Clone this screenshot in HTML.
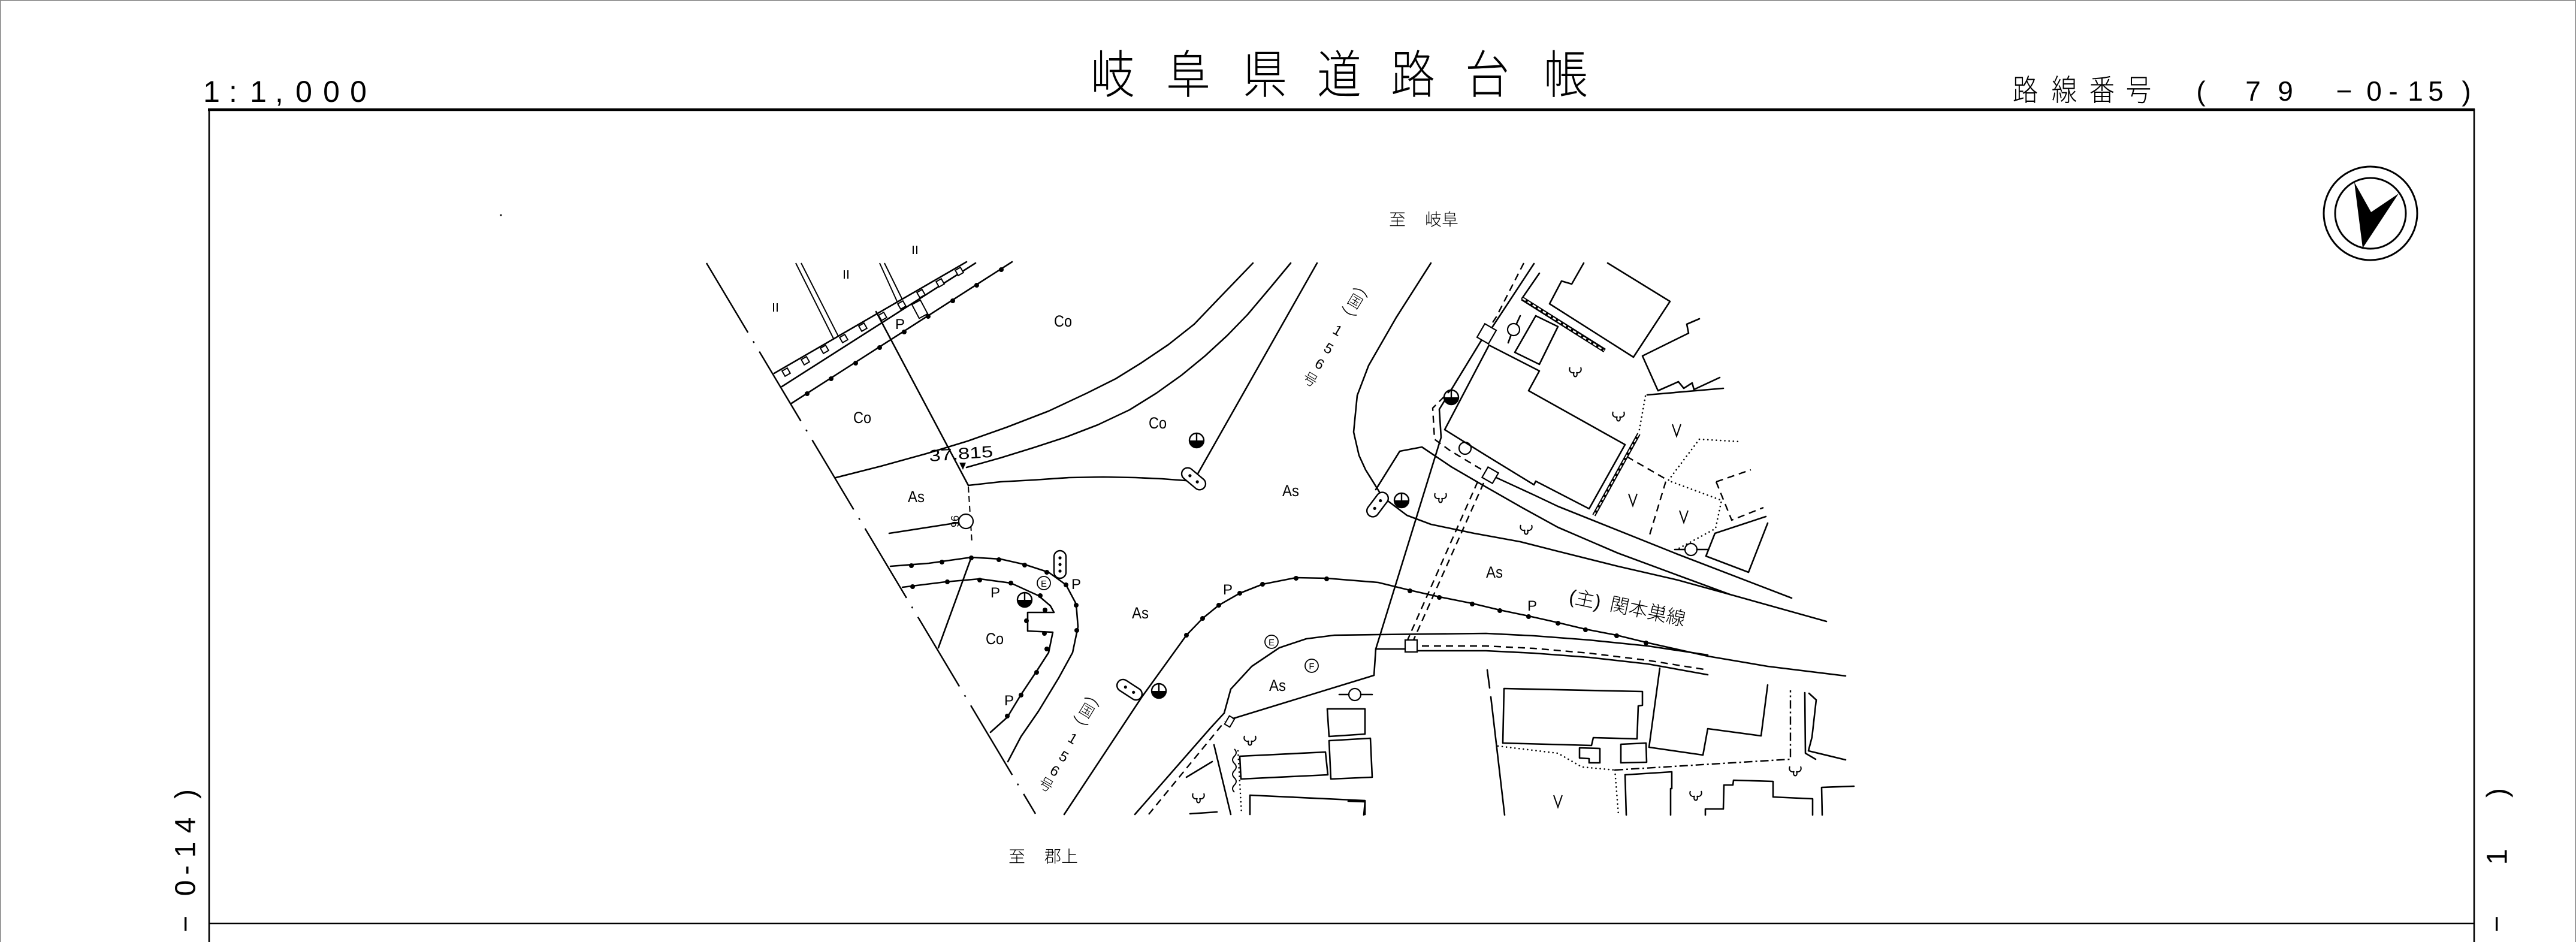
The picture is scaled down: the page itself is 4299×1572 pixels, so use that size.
<!DOCTYPE html>
<html><head><meta charset="utf-8"><style>
html,body{margin:0;padding:0;background:#fff}
svg{display:block}
.l{fill:none;stroke:#000;stroke-width:2.6;stroke-linejoin:round;stroke-linecap:round}
.t{fill:none;stroke:#000;stroke-width:2}
.d{fill:none;stroke:#000;stroke-width:2.4;stroke-dasharray:12 8}
.o{fill:none;stroke:#000;stroke-width:2.6;stroke-dasharray:0.1 7;stroke-linecap:round}
.k{fill:#000;stroke:none}
text{font-family:"Liberation Sans","Noto Sans CJK JP",sans-serif;fill:#000}
.m{font-family:"Liberation Sans Narrow","Liberation Sans",sans-serif;font-size:27px}
.j{font-family:"Liberation Sans","Noto Sans CJK JP",sans-serif;font-weight:300}
</style></head><body>
<svg width="4299" height="1572" viewBox="0 0 4299 1572" xmlns="http://www.w3.org/2000/svg">
<defs>
<g id="mh"><circle r="12" fill="#fff" stroke="#000" stroke-width="2.4"/><path d="M-12,0 A12,12 0 0 0 12,0 Z" fill="#000"/><line x1="0" y1="-12" x2="0" y2="0" stroke="#000" stroke-width="2.4"/></g>
<g id="cap"><rect x="-23" y="-10" width="46" height="20" rx="10" fill="#fff" stroke="#000" stroke-width="2.4"/><circle cx="-8" cy="0" r="2.6" fill="#000"/><circle cx="8" cy="0" r="2.6" fill="#000"/></g>
<g id="tr"><path d="M-9,-8 C-12,0 -4,3 -2,0 M9,-8 C12,0 4,3 2,0 M-2,0 C-6,10 6,10 2,0" fill="none" stroke="#000" stroke-width="2"/></g>
<g id="vv"><path d="M-7,-11 L0,9 L7,-11" fill="none" stroke="#000" stroke-width="2"/></g>
</defs>
<rect width="4299" height="1572" fill="#fff"/>
<!-- page border -->
<path d="M0.8,1572 V0.8 H4298.2 V1572" fill="none" stroke="#8a8a8a" stroke-width="1.6"/>

<!-- header -->
<g font-size="50">
<text x="353" y="170" text-anchor="middle">1</text>
<text x="389" y="170" text-anchor="middle">:</text>
<text x="431" y="170" text-anchor="middle">1</text>
<text x="466" y="170" text-anchor="middle">,</text>
<text x="507" y="170" text-anchor="middle">0</text>
<text x="553" y="170" text-anchor="middle">0</text>
<text x="598" y="170" text-anchor="middle">0</text>
</g>
<g class="j" font-size="86" text-anchor="middle">
<text transform="translate(1857,155) scale(0.86,1)">岐</text>
<text transform="translate(1983,155) scale(0.86,1)">阜</text>
<text transform="translate(2111,155) scale(0.86,1)">県</text>
<text transform="translate(2235,155) scale(0.86,1)">道</text>
<text transform="translate(2358,155) scale(0.86,1)">路</text>
<text transform="translate(2482,155) scale(0.86,1)">台</text>
<text transform="translate(2613,155) scale(0.86,1)">帳</text>
</g>
<g class="j" font-size="50" text-anchor="middle">
<text transform="translate(3380,168) scale(0.85,1)">路</text>
<text transform="translate(3445,168) scale(0.85,1)">線</text>
<text transform="translate(3508,168) scale(0.85,1)">番</text>
<text transform="translate(3569,168) scale(0.85,1)">号</text>
</g>
<g font-size="46" text-anchor="middle">
<text x="3673" y="168">(</text>
<text x="3760" y="168">7</text>
<text x="3814" y="168">9</text>
<text x="3912" y="168">−</text>
<text x="3962" y="168">0</text>
<text x="3994" y="168">-</text>
<text x="4031" y="168">1</text>
<text x="4065" y="168">5</text>
<text x="4116" y="168">)</text>
</g>

<!-- frame -->
<line x1="347" y1="183" x2="4130" y2="183" stroke="#000" stroke-width="4.5"/>
<line x1="349" y1="182" x2="349" y2="1572" stroke="#000" stroke-width="2.6"/>
<line x1="4129" y1="182" x2="4129" y2="1572" stroke="#000" stroke-width="2.6"/>
<line x1="349" y1="1541" x2="4129" y2="1541" stroke="#000" stroke-width="2.6"/>

<!-- side labels -->
<g font-size="48" text-anchor="middle" dominant-baseline="central">
<text transform="translate(310,1325) rotate(-90)">)</text>
<text transform="translate(310,1377) rotate(-90)">4</text>
<text transform="translate(310,1418) rotate(-90)">1</text>
<text transform="translate(310,1452) rotate(-90)">-</text>
<text transform="translate(310,1482) rotate(-90)">0</text>
<text transform="translate(310,1542) rotate(-90)">−</text>
<text transform="translate(4168,1323) rotate(-90)">)</text>
<text transform="translate(4168,1430) rotate(-90)">1</text>
<text transform="translate(4167,1542) rotate(-90)">−</text>
</g>

<!-- compass -->
<circle cx="3956" cy="356" r="78" fill="none" stroke="#000" stroke-width="3"/>
<circle cx="3956" cy="356" r="59" fill="none" stroke="#000" stroke-width="3"/>
<polygon points="3929,304 3957,354 4003,323 3943,414" fill="#000"/>

<!-- direction labels -->
<g class="j" font-size="28">
<text x="2318" y="376">至</text><text x="2378" y="376">岐阜</text>
<text x="1683" y="1439">至</text><text x="1743" y="1439">郡上</text>
</g>
<circle cx="836" cy="359" r="1.5" fill="#000"/>

<!-- ===== MAP ===== -->
<line x1="1179" y1="439" x2="1728" y2="1358" stroke="#000" stroke-width="2.5" stroke-dasharray="135 17 3 17"/>

<g class="t">
<path d="M1328,439 L1391,565 M1337,439 L1399,561"/>
<path d="M1468,439 L1498,505 M1476,439 L1506,500"/>
<path d="M1524,410 L1524,424 M1530,410 L1530,424"/>
<path d="M1409,451 L1409,465 M1415,451 L1415,465"/>
<path d="M1291,506 L1291,520 M1297,506 L1297,520"/>
</g>
<path class="l" d="M1292,623 L1613,437"/>
<path class="l" d="M1305,645 L1628,439" stroke-width="3"/>
<g fill="#fff" stroke="#000" stroke-width="2">
<rect x="-5" y="-5" width="10" height="10" transform="translate(1312,621) rotate(-30)"/>
<rect x="-5" y="-5" width="10" height="10" transform="translate(1344,602) rotate(-30)"/>
<rect x="-5" y="-5" width="10" height="10" transform="translate(1376,583) rotate(-30)"/>
<rect x="-5" y="-5" width="10" height="10" transform="translate(1408,565) rotate(-30)"/>
<rect x="-5" y="-5" width="10" height="10" transform="translate(1440,546) rotate(-30)"/>
<rect x="-5" y="-5" width="10" height="10" transform="translate(1473,528) rotate(-30)"/>
<rect x="-5" y="-5" width="10" height="10" transform="translate(1505,509) rotate(-30)"/>
<rect x="-5" y="-5" width="10" height="10" transform="translate(1537,490) rotate(-30)"/>
<rect x="-5" y="-5" width="10" height="10" transform="translate(1569,472) rotate(-30)"/>
<rect x="-5" y="-5" width="10" height="10" transform="translate(1601,453) rotate(-30)"/>
</g>
<path class="l" d="M1321,673 L1689,437"/>
<g class="k">
<circle cx="1347" cy="657" r="4"/><circle cx="1387" cy="632" r="4"/><circle cx="1428" cy="606" r="4"/>
<circle cx="1468" cy="580" r="4"/><circle cx="1509" cy="554" r="4"/><circle cx="1549" cy="528" r="4"/>
<circle cx="1590" cy="502" r="4"/><circle cx="1630" cy="476" r="4"/><circle cx="1671" cy="450" r="4"/>
</g>
<path class="l" d="M1462,520 L1616,810"/>
<rect x="-8" y="-13" width="16" height="26" fill="#fff" stroke="#000" stroke-width="2" transform="translate(1535,516) rotate(-28)"/>
<path class="t" d="M1616,812 L1622,905" stroke-dasharray="10 6"/>
<path class="l" d="M1395,797 L1470,778 L1546,757 L1615,736 L1680,713 L1750,686 L1814,656 L1862,632 L1904,606 L1950,575 L1993,541 L2037,495 L2065,466 L2091,439"/>
<path class="l" d="M1613,780 L1670,764 L1725,747 L1780,729 L1832,709 L1885,684 L1930,656 L1972,626 L2011,594 L2048,560 L2082,525 L2120,480 L2154,439"/>
<path class="l" d="M1616,810 L1670,804 L1725,801 L1784,797 L1841,796 L1895,797 L1939,799 L1979,802"/>
<path class="l" d="M1993,801 L2198,439"/>
<text class="m" x="1551" y="770" font-size="36" textLength="107" lengthAdjust="spacingAndGlyphs" transform="rotate(-4,1551,770)">37.815</text>
<polygon points="1601,772 1612,772 1607,784" fill="#000"/>
<circle cx="1612" cy="870" r="12" fill="#fff" stroke="#000" stroke-width="2.2"/>
<path class="l" d="M1484,890 L1600,872"/>
<text x="1600" y="870" font-size="18" transform="rotate(-90,1600,870)" text-anchor="middle">96</text>

<use href="#cap" transform="translate(1992,799) rotate(40)"/>
<use href="#mh" x="1997" y="735"/>

<g class="m" text-anchor="middle">
<text x="1774" y="545" textLength="30" lengthAdjust="spacingAndGlyphs">Co</text>
<text x="1439" y="706" textLength="30" lengthAdjust="spacingAndGlyphs">Co</text>
<text x="1932" y="715" textLength="30" lengthAdjust="spacingAndGlyphs">Co</text>
<text x="1529" y="838" textLength="28" lengthAdjust="spacingAndGlyphs">As</text>
<text x="2154" y="828" textLength="28" lengthAdjust="spacingAndGlyphs">As</text>
<text x="1903" y="1032" textLength="28" lengthAdjust="spacingAndGlyphs">As</text>
<text x="2132" y="1153" textLength="28" lengthAdjust="spacingAndGlyphs">As</text>
<text x="2494" y="964" textLength="28" lengthAdjust="spacingAndGlyphs">As</text>
<text x="1660" y="1075" textLength="30" lengthAdjust="spacingAndGlyphs">Co</text>
<text x="1502" y="549" font-size="24">P</text>
<text x="1796" y="983" font-size="24">P</text>
<text x="1661" y="997" font-size="24">P</text>
<text x="1684" y="1177" font-size="24">P</text>
<text x="2049" y="992" font-size="24">P</text>
<text x="2557" y="1019" font-size="24">P</text>
</g>

<path class="l" d="M1486,945 L1550,940 L1621,930 L1670,933 L1710,942 L1750,955 L1779,976 L1796,1008 L1799,1046 L1790,1089 L1767,1131 L1733,1187 L1704,1229 L1682,1271"/>
<path class="l" d="M1506,980 L1578,971 L1635,966 L1687,973 L1733,994 L1753,1011 L1759,1022 L1715,1022 L1715,1053 L1757,1055 L1750,1089 L1730,1120 L1704,1159 L1681,1197 L1653,1222"/>
<path class="l" d="M1621,930 L1566,1081"/>
<g class="k">
<circle cx="1521" cy="944" r="4"/><circle cx="1572" cy="938" r="4"/><circle cx="1621" cy="931" r="4"/>
<circle cx="1667" cy="934" r="4"/><circle cx="1710" cy="943" r="4"/><circle cx="1747" cy="955" r="4"/>
<circle cx="1779" cy="976" r="4"/><circle cx="1796" cy="1010" r="4"/><circle cx="1797" cy="1052" r="4"/>
<circle cx="1523" cy="979" r="4"/><circle cx="1581" cy="971" r="4"/><circle cx="1635" cy="968" r="4"/>
<circle cx="1687" cy="973" r="4"/><circle cx="1736" cy="994" r="4"/><circle cx="1744" cy="1018" r="4"/>
<circle cx="1713" cy="1036" r="4"/><circle cx="1743" cy="1057" r="4"/><circle cx="1747" cy="1083" r="4"/>
<circle cx="1730" cy="1122" r="4"/><circle cx="1704" cy="1160" r="4"/><circle cx="1681" cy="1195" r="4"/>
</g>
<g transform="translate(1769,942)"><rect x="-10" y="-23" width="20" height="46" rx="10" fill="#fff" stroke="#000" stroke-width="2.4"/><circle cx="0" cy="-11" r="2.6" fill="#000"/><circle cx="0" cy="0" r="2.6" fill="#000"/><circle cx="0" cy="11" r="2.6" fill="#000"/></g>
<g fill="none" stroke="#000" stroke-width="1.8">
<circle cx="1742" cy="973" r="11"/><circle cx="2122" cy="1071" r="11"/><circle cx="2189" cy="1111" r="11"/>
</g>
<g font-size="15" text-anchor="middle">
<text x="1742" y="979">E</text><text x="2122" y="1077">E</text><text x="2189" y="1117">F</text>
</g>
<use href="#mh" x="1710" y="1001"/>

<path class="l" d="M1776,1359 L1905,1164 L1980,1060 L2007,1032 L2034,1010 L2069,990 L2107,975 L2163,964 L2214,965 L2300,972 L2353,985 L2402,996 L2457,1007 L2503,1018 L2551,1028 L2600,1039 L2646,1050 L2698,1060 L2747,1072 L2850,1095 L2950,1112 L3080,1128"/>
<g class="k">
<circle cx="1980" cy="1060" r="4"/><circle cx="2007" cy="1032" r="4"/><circle cx="2034" cy="1010" r="4"/>
<circle cx="2069" cy="990" r="4"/><circle cx="2107" cy="975" r="4"/><circle cx="2163" cy="965" r="4"/>
<circle cx="2214" cy="966" r="4"/><circle cx="2353" cy="986" r="4"/><circle cx="2402" cy="997" r="4"/>
<circle cx="2457" cy="1008" r="4"/><circle cx="2503" cy="1019" r="4"/><circle cx="2551" cy="1029" r="4"/>
<circle cx="2600" cy="1040" r="4"/><circle cx="2646" cy="1051" r="4"/><circle cx="2698" cy="1061" r="4"/>
<circle cx="2747" cy="1073" r="4"/>
</g>
<path class="l" d="M1894,1359 L2020,1215 L2043,1190 L2054,1150 L2089,1112 L2135,1081 L2180,1066 L2227,1060 L2300,1059 L2480,1057 L2560,1061 L2652,1068 L2750,1078 L2850,1093"/>
<path class="d" d="M1917,1359 L2044,1204"/>
<rect x="-5" y="-8" width="10" height="16" fill="#fff" stroke="#000" stroke-width="2" transform="translate(2052,1204) rotate(30)"/>
<path class="l" d="M2058,1199 L2293,1127 L2296,1083 L2405,730 L2402,683 L2471,570"/>
<path class="l" d="M1980,1297 L2023,1271"/>
<path class="l" d="M2026,1243 L2054,1359"/>
<path class="o" d="M2066,1253 L2072,1359"/>
<path class="t" d="M2060,1250 q6,6 0,12 q-6,6 0,12 q6,6 0,12 q-6,6 0,12 q6,6 0,12 q-6,6 0,12"/>
<path class="l" d="M1986,1358 L2031,1355"/>
<g class="l">
<path d="M2215,1183 L2278,1183 L2278,1225 L2218,1229 Z"/>
<path d="M2218,1236 L2287,1232 L2290,1297 L2221,1300 Z"/>
<path d="M2069,1262 L2212,1255 L2216,1293 L2071,1300 Z"/>
<path d="M2086,1359 L2086,1327 L2278,1336 L2278,1359"/>
<path d="M2250,1337 L2278,1338 L2276,1360"/>
</g>
<circle cx="2261" cy="1159" r="10" fill="#fff" stroke="#000" stroke-width="2.2"/>
<path class="l" d="M2235,1159 L2251,1159 M2271,1159 L2290,1159"/>
<use href="#cap" transform="translate(1885,1151) rotate(33)"/>
<use href="#mh" x="1934" y="1153"/>

<g class="j" font-size="24" text-anchor="middle" dominant-baseline="central">
<g transform="translate(1813,1187) rotate(31)"><path d="M-14,-17 Q0,-27 14,-17 M-14,17 Q0,27 14,17" fill="none" stroke="#000" stroke-width="1.6"/><text x="0" y="0">国</text></g>
<text transform="translate(1790,1233) rotate(31)">1</text>
<text transform="translate(1775,1263) rotate(31)">5</text>
<text transform="translate(1760,1287) rotate(31)">6</text>
<text transform="translate(1745,1310) rotate(31)">号</text>
<g transform="translate(2261,504) rotate(31)"><path d="M-14,-17 Q0,-27 14,-17 M-14,17 Q0,27 14,17" fill="none" stroke="#000" stroke-width="1.6"/><text x="0" y="0">国</text></g>
<text transform="translate(2232,552) rotate(31)">1</text>
<text transform="translate(2217,582) rotate(31)">5</text>
<text transform="translate(2202,608) rotate(31)">6</text>
<text transform="translate(2186,634) rotate(31)">号</text>
</g>

<path class="l" d="M2388,439 L2330,530 L2284,610 L2265,660 L2259,721 L2268,760 L2279,784 L2307,829 L2348,860 L2388,875 L2460,890 L2537,904 L2600,920 L2700,945 L2800,968 L2887,992 L3048,1037"/>
<path class="l" d="M2296,817 L2336,753 L2373,746 L2422,779 L2477,811 L2540,847 L2600,880 L2700,923 L2800,960 L2887,992"/>
<path class="l" d="M2497,797 L2560,826 L2600,845 L2650,865 L2800,925 L2990,998"/>
<use href="#cap" transform="translate(2299,842) rotate(-53)"/>
<use href="#mh" x="2339" y="835"/>
<use href="#mh" x="2422" y="663"/>
<path class="d" d="M2543,439 L2497,529 L2482,552 L2422,650 L2391,681 L2394,733 L2420,752 L2485,791"/>
<path class="l" d="M2471,570 L2491,545 L2560,440"/>
<rect x="-11" y="-13" width="22" height="26" fill="#fff" stroke="#000" stroke-width="2.2" transform="translate(2481,557) rotate(30)"/>
<rect x="-10" y="-10" width="20" height="20" fill="#fff" stroke="#000" stroke-width="2.2" transform="translate(2487,793) rotate(30)"/>
<circle cx="2445" cy="748" r="10" fill="#fff" stroke="#000" stroke-width="2.2"/>
<circle cx="2526" cy="550" r="10" fill="#fff" stroke="#000" stroke-width="2.2"/>
<path class="l" d="M2537,527 L2531,540 M2521,561 L2517,572"/>
<path class="l" d="M2569,456 L2540,498"/>
<path class="d" d="M2466,804 L2349,1068"/>
<path class="d" d="M2476,806 L2359,1068"/>
<path class="l" d="M2296,1083 L2345,1083 M2365,1086 L2480,1086 L2560,1090 L2652,1097 L2750,1108 L2850,1126"/>
<rect x="2345" y="1068" width="20" height="20" fill="#fff" stroke="#000" stroke-width="2.2"/>
<path class="d" d="M2373,1078 L2480,1078 L2560,1082 L2652,1090 L2750,1102 L2850,1118"/>
<g class="l">
<path d="M2643,439 L2623,474 L2606,469 L2586,507 L2726,596 L2787,503 L2683,439"/>
<path d="M2563,527 L2600,545 L2569,608 L2528,588 Z"/>
<path d="M2485,576 L2569,619 L2551,652 L2712,742 L2652,849 L2563,803 L2560,809 L2480,760 L2411,717 Z"/>
<path d="M2836,532 L2815,541 L2818,556 L2741,594 L2767,652 L2801,637 L2810,648 L2824,639 L2827,650 L2870,630"/>
<path d="M2749,659 L2876,648"/>
<path d="M2947,862 L2862,890 L2847,928 L2918,955 L2950,873"/>
</g>
<path d="M2540,498 L2678,585" stroke="#000" stroke-width="7" fill="none"/>
<path d="M2541,498 L2677,585" stroke="#fff" stroke-width="2.5" fill="none" stroke-dasharray="6 4"/>
<path d="M2735,724 L2660,860" stroke="#000" stroke-width="6" fill="none"/>
<path d="M2735,724 L2660,860" stroke="#fff" stroke-width="2" fill="none" stroke-dasharray="6 4"/>
<path class="o" d="M2746,661 L2735,722"/>
<path class="d" d="M2715,762 L2781,800 L2752,896" stroke-dasharray="22 10"/>
<path class="o" d="M2836,733 L2904,737 M2836,733 L2784,802 L2873,835 L2863,882 L2802,915"/>
<path class="d" d="M2864,804 L2890,868 L2943,847 M2864,804 L2922,784" stroke-dasharray="20 10"/>
<circle cx="2822" cy="917" r="10" fill="#fff" stroke="#000" stroke-width="2.2"/>
<path class="l" d="M2795,917 L2812,917 M2832,917 L2850,917"/>
<g class="l">
<path d="M2482,1118 L2486,1148 M2488,1163 L2511,1360"/>
<path d="M2510,1149 L2741,1154 L2741,1177 L2734,1178 L2732,1233 L2659,1231 L2656,1244 L2508,1240 Z"/>
<path d="M2636,1248 L2670,1249 L2670,1273 L2652,1273 L2652,1266 L2636,1265 Z"/>
<path d="M2705,1242 L2747,1240 L2748,1272 L2705,1273 Z"/>
<path d="M2770,1115 L2752,1247 L2842,1260 L2850,1216 L2939,1228 L2950,1143"/>
<path d="M2714,1360 L2712,1293 L2790,1288 L2790,1316 L2788,1316 L2788,1360"/>
<path d="M2846,1360 L2846,1350 L2876,1350 L2877,1310 L2892,1310 L2893,1302 L2959,1304 L2959,1330 L3025,1333 L3025,1360"/>
<path d="M3041,1360 L3040,1314 L3094,1312"/>
<path d="M3012,1156 L3013,1257 L3030,1267"/>
<path d="M3019,1157 L3031,1168 L3024,1230 L3018,1253 L3080,1268"/>
</g>
<path class="o" d="M2500,1245 L2600,1257 L2640,1280 L2695,1285 M2695,1285 L2701,1360"/>
<path d="M2695,1285 L2988,1267 L2988,1152" fill="none" stroke="#000" stroke-width="2.4" stroke-dasharray="14 5 3 5"/>

<use href="#tr" x="2629" y="621"/><use href="#tr" x="2701" y="695"/><use href="#tr" x="2404" y="831"/>
<use href="#tr" x="2547" y="884"/><use href="#tr" x="2086" y="1236"/><use href="#tr" x="2000" y="1332"/>
<use href="#tr" x="2996" y="1287"/><use href="#tr" x="2830" y="1328"/>
<use href="#vv" x="2798" y="719"/><use href="#vv" x="2725" y="835"/><use href="#vv" x="2810" y="863"/><use href="#vv" x="2600" y="1338"/>

<text class="j" font-size="32" transform="translate(2617,1005) rotate(12)">(主)</text>
<text class="j" font-size="32" transform="translate(2685,1018) rotate(12)">関本巣線</text>
</svg>
</body></html>
